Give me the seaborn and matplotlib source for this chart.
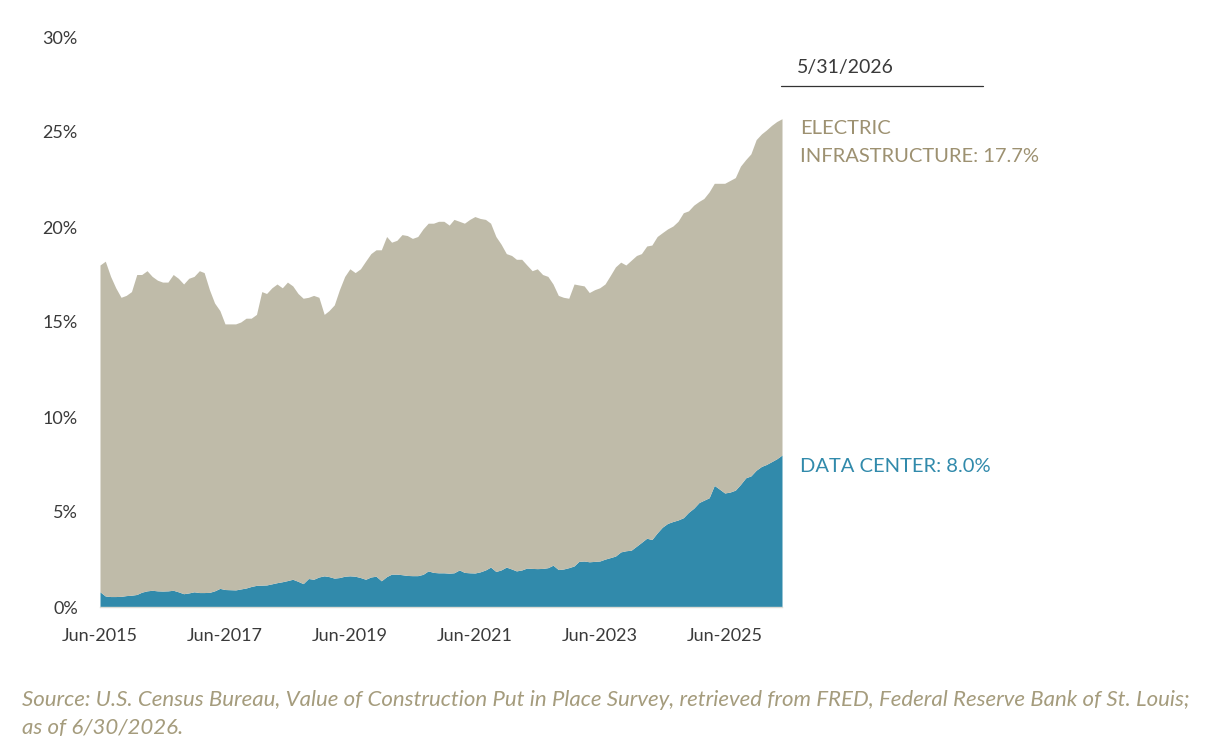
import pandas as pd
import matplotlib
matplotlib.use("Agg")
import matplotlib.pyplot as plt
import seaborn as sns

## Share of construction spending: data center vs electric infrastructure
## monthly, Jun-2015 .. May-2026 (values in %)

start_month = "2015-06-30"
n_months = 132

# top of the stack (data center + electric infrastructure)
total_share = [
    18.0, 18.2, 17.4, 16.8, 16.3, 16.4, 16.6, 17.5, 17.5, 17.7, 17.4, 17.2,
    17.1, 17.1, 17.5, 17.3, 17.0, 17.3, 17.4, 17.7, 17.6, 16.7, 16.0, 15.6,
    14.9, 14.9, 14.9, 15.0, 15.2, 15.2, 15.4, 16.6, 16.5, 16.8, 17.0, 16.8,
    17.1, 16.9, 16.5, 16.25, 16.3, 16.4, 16.3, 15.4, 15.6, 15.9, 16.7, 17.4,
    17.8, 17.6, 17.8, 18.2, 18.6, 18.8, 18.8, 19.5, 19.2, 19.3, 19.6, 19.55,
    19.4, 19.5, 19.9, 20.2, 20.2, 20.3, 20.3, 20.1, 20.4, 20.3, 20.2, 20.4,
    20.55, 20.45, 20.4, 20.2, 19.5, 19.1, 18.6, 18.5, 18.3, 18.3, 18.0, 17.7,
    17.8, 17.5, 17.4, 17.0, 16.4, 16.3, 16.25, 17.0, 16.95, 16.9, 16.55, 16.7,
    16.8, 17.0, 17.45, 17.9, 18.15, 18.0, 18.25, 18.5, 18.6, 19.0, 19.05, 19.5,
    19.7, 19.9, 20.05, 20.3, 20.75, 20.85, 21.15, 21.35, 21.5, 21.85, 22.3, 22.3,
    22.3, 22.45, 22.6, 23.2, 23.55, 23.85, 24.6, 24.9, 25.1, 25.35, 25.55, 25.7,
]

data_center_share = [
    0.8, 0.58, 0.55, 0.55, 0.56, 0.6, 0.62, 0.66, 0.78, 0.85, 0.88, 0.85,
    0.84, 0.85, 0.88, 0.8, 0.7, 0.74, 0.8, 0.76, 0.76, 0.77, 0.85, 0.98,
    0.92, 0.91, 0.9, 0.95, 1.0, 1.08, 1.14, 1.15, 1.16, 1.22, 1.28, 1.33,
    1.39, 1.46, 1.35, 1.23, 1.5, 1.46, 1.58, 1.64, 1.6, 1.52, 1.55, 1.62,
    1.64, 1.62, 1.55, 1.46, 1.58, 1.62, 1.38, 1.6, 1.73, 1.73, 1.7, 1.66,
    1.65, 1.65, 1.72, 1.9, 1.82, 1.8, 1.8, 1.78, 1.8, 1.95, 1.82, 1.8,
    1.79, 1.85, 1.95, 2.1, 1.87, 1.95, 2.1, 2.0, 1.9, 1.95, 2.05, 2.03,
    2.02, 2.03, 2.07, 2.2, 1.97, 2.0, 2.07, 2.16, 2.4, 2.42, 2.38, 2.4,
    2.42, 2.52, 2.6, 2.68, 2.9, 2.96, 2.99, 3.2, 3.4, 3.62, 3.55, 3.9,
    4.2, 4.4, 4.5, 4.58, 4.7, 4.98, 5.2, 5.5, 5.62, 5.75, 6.4, 6.2,
    6.0, 6.05, 6.15, 6.45, 6.8, 6.9, 7.2, 7.4, 7.5, 7.65, 7.8, 8.0,
]

y_ticks = [0, 5, 10, 15, 20, 25, 30]
as_of_label = "5/31/2026"
electric_lines = ["ELECTRIC", "INFRASTRUCTURE: 17.7%"]
dc_label = "DATA CENTER: 8.0%"
source_lines = [
    "Source: U.S. Census Bureau, Value of Construction Put in Place Survey, "
    "retrieved from FRED, Federal Reserve Bank of St. Louis;",
    "as of 6/30/2026.",
]

ELEC_COLOR = "#bfbba9"
DC_COLOR = "#318aab"
ELEC_TEXT = "#9d9171"
TEXT_COLOR = "#3a3a3a"
SOURCE_COLOR = "#a59c7d"

W, H = 1207, 748

sns.set_style("white")
plt.rcParams["font.family"] = ["Lato", "DejaVu Sans"]

df = pd.DataFrame({
    "date": pd.date_range(start_month, periods=n_months, freq="ME"),
    "total": total_share,
    "data_center": data_center_share,
})

fig = plt.figure(figsize=(W / 100, H / 100), dpi=100)
ax = fig.add_axes([100 / W, 1 - 607 / H, 682 / W, 570 / H])

ax.fill_between(df["date"], 0, df["data_center"], color=DC_COLOR, linewidth=0)
ax.fill_between(df["date"], df["data_center"], df["total"], color=ELEC_COLOR, linewidth=0)

ax.set_xlim(df["date"].iloc[0], df["date"].iloc[-1])
ax.set_ylim(0, 30)
ax.set_yticks(y_ticks)
ax.set_yticklabels([f"{t}%" for t in y_ticks])

tick_dates = df["date"].iloc[::24]
ax.set_xticks(tick_dates)
ax.set_xticklabels([d.strftime("%b-%Y") for d in tick_dates])

ax.tick_params(axis="both", length=0, labelsize=13, colors=TEXT_COLOR)
ax.tick_params(axis="y", pad=16)
ax.tick_params(axis="x", pad=15)
sns.despine(ax=ax, left=True, top=True, right=True)
ax.spines["bottom"].set_color("#dcdcd6")
ax.spines["bottom"].set_linewidth(1.0)
ax.set_xlabel("")
ax.set_ylabel("")

# right-hand labels
fig.text(797 / W, 1 - 68 / H, as_of_label, fontsize=14, color=TEXT_COLOR,
         va="center", ha="left")
fig.add_artist(plt.Line2D([781 / W, 983 / W], [1 - 86 / H, 1 - 86 / H],
                          color="#333333", linewidth=0.9))
for line, y in zip(electric_lines, [128, 157]):
    fig.text(800 / W, 1 - y / H, line, fontsize=14.5, color=ELEC_TEXT,
             va="center", ha="left")
fig.text(800 / W, 1 - 466 / H, dc_label, fontsize=14.5, color=DC_COLOR,
         va="center", ha="left")

for line, y in zip(source_lines, [700, 728]):
    fig.text(22 / W, 1 - y / H, line, fontsize=16, style="italic",
             color=SOURCE_COLOR, va="center", ha="left")

fig.savefig("out.png", dpi=100, facecolor="white")
